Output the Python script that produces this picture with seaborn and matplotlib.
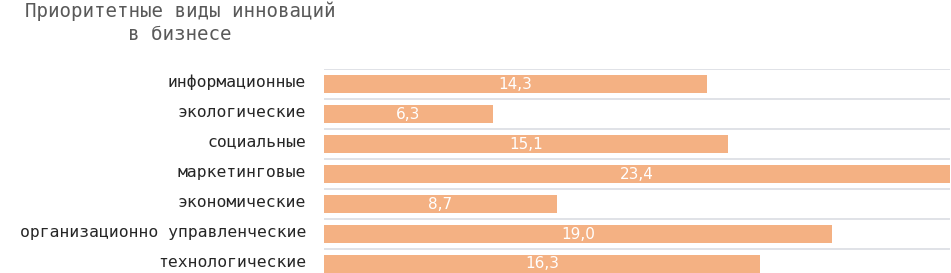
import matplotlib
matplotlib.use("Agg")
import matplotlib.pyplot as plt
import matplotlib.transforms as mtransforms
import seaborn as sns
import pandas as pd
import numpy as np

categories = ["информационные", "экологические", "социальные", "маркетинговые",
              "экономические", "организационно управленческие", "технологические"]
values = [14.3, 6.3, 15.1, 23.4, 8.7, 19.0, 16.3]
title_text = "Приоритетные виды инноваций\nв бизнесе"

sns.set_theme(style="white")
plt.rcParams['font.family'] = ['DejaVu Sans']

W, H = 951, 273
fig = plt.figure(figsize=(W / 100, H / 100), dpi=100)
ax_left, ax_right = 324, 950
ax_top, ax_bottom = 69, 279
ax = fig.add_axes([ax_left / W, (H - ax_bottom) / H,
                   (ax_right - ax_left) / W, (ax_bottom - ax_top) / H])

df = pd.DataFrame({"cat": categories, "val": values})
sns.barplot(data=df, x="val", y="cat", orient="h", color="#F4B183",
            saturation=1, width=0.6, ax=ax, linewidth=0)

ax.set_xlim(0, max(values))
ax.set_ylim(len(categories) - 0.5, -0.5)
for s in ax.spines.values():
    s.set_visible(False)
ax.set_xticks([])
ax.set_xlabel("")
ax.set_ylabel("")
ax.set_yticks(range(len(categories)))
ax.set_yticklabels(categories, fontfamily="DejaVu Sans Mono", fontsize=11.8,
                   color="#262626")
ax.tick_params(axis="y", length=0, pad=13)
offset = mtransforms.ScaledTranslation(0, 2.5 / 72, fig.dpi_scale_trans)
for lbl in ax.get_yticklabels():
    lbl.set_transform(lbl.get_transform() + offset)
ax.set_yticks(np.arange(-0.5, len(categories), 1), minor=True)
ax.tick_params(axis="y", which="minor", length=0)
ax.grid(True, which="minor", axis="y", color="#DADDE3", linewidth=1.2)
ax.grid(False, which="major")
ax.set_axisbelow(True)

for i, v in enumerate(values):
    ax.text(v / 2, i, f"{v:.1f}".replace(".", ","), ha="center", va="center",
            color="white", fontsize=11)

fig.text(180 / W, 1 - 23 / H, title_text, ha="center", va="center",
         multialignment="center", fontfamily="DejaVu Sans Mono", fontsize=13.8,
         color="#595959", linespacing=1.25)

fig.savefig("out.png", dpi=100)
